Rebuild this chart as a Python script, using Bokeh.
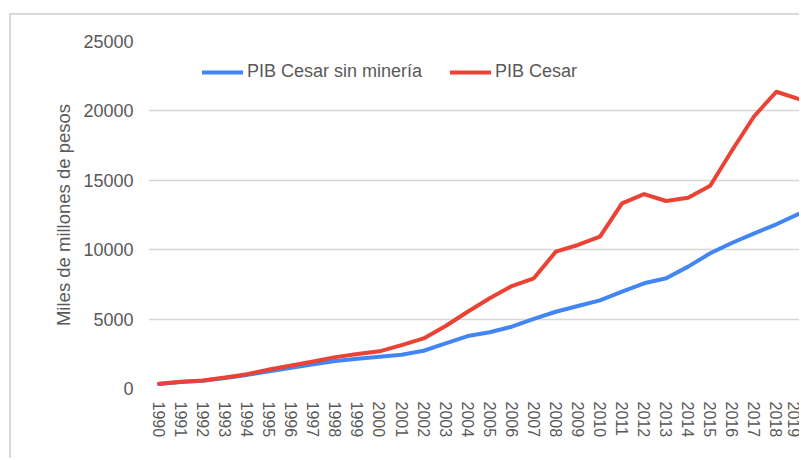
from bokeh.plotting import figure
from bokeh.models import Range1d, FixedTicker, Legend, LegendItem
from bokeh.embed import file_html
from bokeh.resources import INLINE

years = list(range(1990, 2020))
pib_sin_mineria = [330, 460, 560, 760, 980, 1240, 1500, 1740, 1980, 2150,
                   2290, 2430, 2720, 3250, 3780, 4050, 4450, 5010, 5530, 5940,
                   6350, 6980, 7580, 7940, 8780, 9740, 10500, 11180, 11830, 12570]
pib_cesar = [350, 490, 580, 790, 1030, 1370, 1660, 1950, 2260, 2480,
             2680, 3130, 3610, 4500, 5530, 6500, 7380, 7940, 9860, 10340,
             10940, 13340, 14010, 13510, 13750, 14610, 17180, 19630, 21380, 20860]
y_ticks = [0, 5000, 10000, 15000, 20000, 25000]
series_names = ["PIB Cesar sin minería", "PIB Cesar"]
y_title = "Miles de millones de pesos"

FONT = "Liberation Sans"
TXT = "#595959"

p = figure(width=790, height=445, output_backend="svg", toolbar_location=None,
           x_range=Range1d(1989.524, 2019.14), y_range=Range1d(0, 25000),
           min_border_left=137, min_border_top=26, min_border_bottom=72,
           min_border_right=0)
# outer chart border (left and top edges, the rest is cut off as in the source)
p.styles = {"border-left": "2px solid #dadada", "border-top": "2px solid #dadada",
            "margin-left": "9px", "margin-top": "13px"}
p.outline_line_color = None
p.background_fill_color = "white"
p.border_fill_color = "white"

r_blue = p.line(years, pib_sin_mineria, line_color="#4285F4", line_width=4,
                line_cap="round", line_join="round")
r_red = p.line(years, pib_cesar, line_color="#EA4335", line_width=4,
               line_cap="round", line_join="round")

p.xgrid.visible = False
p.ygrid.grid_line_color = "#d6d6d6"
p.ygrid.grid_line_width = 1.5
p.yaxis.ticker = FixedTicker(ticks=y_ticks)
p.xaxis.ticker = FixedTicker(ticks=years)

for ax in (p.xaxis[0], p.yaxis[0]):
    ax.axis_line_color = None
    ax.major_tick_line_color = None
    ax.minor_tick_line_color = None
    ax.major_tick_out = 0
    ax.major_tick_in = 0
    ax.major_label_text_font = FONT
    ax.major_label_text_color = TXT

p.yaxis.major_label_text_font_size = "18px"
p.yaxis.major_label_standoff = 15
p.yaxis.axis_label = y_title
p.yaxis.axis_label_text_font = FONT
p.yaxis.axis_label_text_font_size = "18.5px"
p.yaxis.axis_label_text_font_style = "normal"
p.yaxis.axis_label_text_color = TXT
p.yaxis.axis_label_standoff = 6

p.xaxis.major_label_orientation = "vertical"
p.xaxis.major_label_text_font_size = "16px"
p.xaxis.major_label_standoff = 13

legend = Legend(items=[LegendItem(label=series_names[0], renderers=[r_blue]),
                       LegendItem(label=series_names[1], renderers=[r_red])],
                orientation="horizontal", location=(54, 306),
                glyph_width=41, glyph_height=20, label_standoff=4, spacing=28,
                padding=0, margin=0, border_line_color=None,
                background_fill_alpha=0,
                label_text_font=FONT, label_text_font_size="18px",
                label_text_color=TXT)
p.add_layout(legend)

open("out.html", "w").write(file_html(p, INLINE))
